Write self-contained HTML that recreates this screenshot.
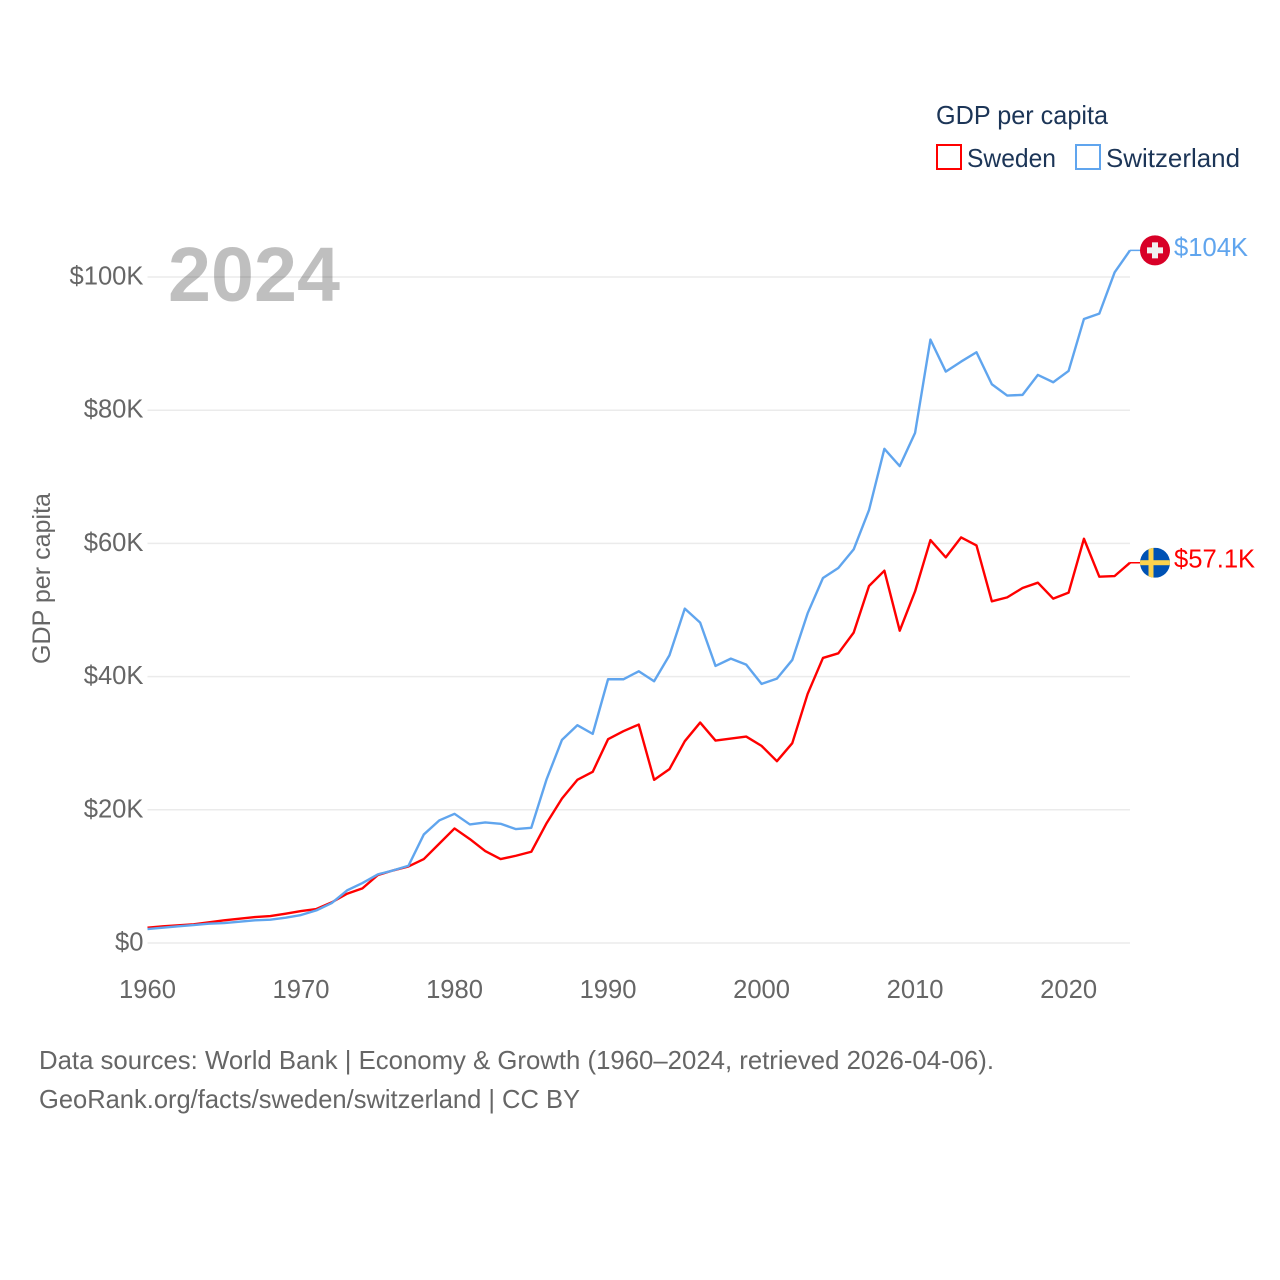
<!DOCTYPE html>
<html lang="en">
<head>
<meta charset="utf-8">
<title>GDP per capita: Sweden and Switzerland</title>
<style>
  html, body { margin: 0; padding: 0; background: #fff; }
  svg { display: block; font-family: "Liberation Sans", sans-serif; }
</style>
</head>
<body>
<svg id="chart" xmlns="http://www.w3.org/2000/svg" width="1280" height="1280" viewBox="0 0 1280 1280">
  <defs>
    <clipPath id="flag-clip-se"><circle cx="0" cy="0" r="15"></circle></clipPath>
  </defs>
  <rect x="0" y="0" width="1280" height="1280" fill="#ffffff"></rect>
  <g id="grid"></g>
  <g id="y-ticks"></g>
  <g id="x-ticks"></g>
  <text x="168" y="301" font-size="77" font-weight="700" fill="#000000" fill-opacity="0.25" textLength="172" lengthAdjust="spacingAndGlyphs">2024</text>
  <text transform="translate(50,664) rotate(-90)" font-size="25" fill="#666666" textLength="171" lengthAdjust="spacingAndGlyphs">GDP per capita</text>
  <g id="series"></g>
  <g id="ends"></g>
  <g>
    <text x="936" y="124" font-size="26" fill="#1c3557" textLength="172" lengthAdjust="spacingAndGlyphs">GDP per capita</text>
    <g>
      <rect x="937" y="145" width="24" height="24" fill="#ffffff" stroke="#ff0000" stroke-width="2"></rect>
      <text x="967" y="167" font-size="26" fill="#1c3557" textLength="89" lengthAdjust="spacingAndGlyphs">Sweden</text>
    </g>
    <g>
      <rect x="1076" y="145" width="24" height="24" fill="#ffffff" stroke="#60a5ee" stroke-width="2"></rect>
      <text x="1106" y="167" font-size="26" fill="#1c3557" textLength="134" lengthAdjust="spacingAndGlyphs">Switzerland</text>
    </g>
  </g>
  <text x="39" y="1069" font-size="26" fill="#666666" textLength="955" lengthAdjust="spacingAndGlyphs">Data sources: World Bank | Economy &amp; Growth (1960–2024, retrieved 2026-04-06).</text>
  <text x="39" y="1108" font-size="26" fill="#666666" textLength="541" lengthAdjust="spacingAndGlyphs">GeoRank.org/facts/sweden/switzerland | CC BY</text>
</svg>
<script>
var years = [1960,1961,1962,1963,1964,1965,1966,1967,1968,1969,1970,1971,1972,1973,1974,1975,1976,1977,1978,1979,1980,1981,1982,1983,1984,1985,1986,1987,1988,1989,1990,1991,1992,1993,1994,1995,1996,1997,1998,1999,2000,2001,2002,2003,2004,2005,2006,2007,2008,2009,2010,2011,2012,2013,2014,2015,2016,2017,2018,2019,2020,2021,2022,2023,2024];
var swedenValues = [2.3,2.5,2.65,2.8,3.1,3.4,3.65,3.9,4.05,4.4,4.8,5.1,6.1,7.4,8.2,10.2,10.9,11.5,12.6,14.9,17.2,15.6,13.8,12.6,13.1,13.7,18.0,21.7,24.5,25.7,30.6,31.8,32.8,24.5,26.1,30.3,33.1,30.4,30.7,31.0,29.6,27.3,30.0,37.4,42.8,43.5,46.6,53.6,55.9,46.9,52.8,60.5,57.9,60.9,59.7,51.3,51.9,53.3,54.1,51.7,52.6,60.7,55.0,55.1,57.1];
var switzerlandValues = [2.1,2.3,2.5,2.7,2.9,3.0,3.2,3.4,3.5,3.8,4.2,4.9,6.0,7.9,9.0,10.3,10.9,11.6,16.3,18.4,19.4,17.8,18.1,17.9,17.1,17.3,24.6,30.5,32.7,31.4,39.6,39.6,40.8,39.3,43.2,50.2,48.1,41.6,42.7,41.8,38.9,39.7,42.5,49.5,54.8,56.3,59.1,65.0,74.2,71.6,76.6,90.6,85.8,87.3,88.7,83.9,82.2,82.3,85.3,84.2,85.9,93.7,94.5,100.7,104.0];
var yTickValues = [0,20,40,60,80,100];
var yTickLabels = ["$0","$20K","$40K","$60K","$80K","$100K"];
var xTickValues = [1960,1970,1980,1990,2000,2010,2020];
var xTickLabels = ["1960","1970","1980","1990","2000","2010","2020"];

var NS = "http://www.w3.org/2000/svg";
var plotLeft = 147.5, plotRight = 1130, plotZero = 943, plotHundred = 277;
function xScale(year) {
  return plotLeft + (year - years[0]) * (plotRight - plotLeft) / (years[years.length - 1] - years[0]);
}
function yScale(value) {
  return plotZero + value * (plotHundred - plotZero) / 100;
}
function make(tag, attrs, parent) {
  var el = document.createElementNS(NS, tag);
  for (var k in attrs) { el.setAttribute(k, attrs[k]); }
  parent.appendChild(el);
  return el;
}
function formatValue(v) {
  return "$" + (v >= 100 ? Math.round(v) : v.toFixed(1)) + "K";
}

var gridGroup = document.getElementById("grid");
var yGroup = document.getElementById("y-ticks");
yTickValues.forEach(function (v, i) {
  var line = make("line", { x1: plotLeft, x2: plotRight, y1: yScale(v), y2: yScale(v), stroke: "#ebebeb", "stroke-width": 1.5 }, gridGroup);
  
  
  var label = make("text", { x: 143.5, y: yScale(v) + 7.5, "text-anchor": "end", "font-size": 25.6, fill: "#666666" }, yGroup);
  label.textContent = yTickLabels[i];
  
  
});

var xGroup = document.getElementById("x-ticks");
xTickValues.forEach(function (v, i) {
  var label = make("text", { x: xScale(v), y: 998, "text-anchor": "middle", "font-size": 25.6, fill: "#666666" }, xGroup);
  label.textContent = xTickLabels[i];
  
  
});

function pointsFor(values) {
  return values.map(function (v, i) { return xScale(years[i]).toFixed(2) + "," + yScale(v).toFixed(2); }).join(" ");
}
var seriesGroup = document.getElementById("series");
var swedenLine = make("polyline", { points: pointsFor(swedenValues), fill: "none", stroke: "#ff0000", "stroke-width": 2.4, "stroke-linejoin": "round" }, seriesGroup);


var switzerlandLine = make("polyline", { points: pointsFor(switzerlandValues), fill: "none", stroke: "#60a5ee", "stroke-width": 2.4, "stroke-linejoin": "round" }, seriesGroup);



var endsGroup = document.getElementById("ends");
var lastYear = years[years.length - 1];
var flagX = xScale(lastYear) + 25;

// Switzerland end marker
var chY = yScale(switzerlandValues[switzerlandValues.length - 1]);
var chLeader = make("line", { x1: xScale(lastYear), x2: flagX, y1: chY, y2: chY, stroke: "#60a5ee", "stroke-width": 1.5 }, endsGroup);


var chFlag = make("g", { transform: "translate(" + flagX + "," + chY + ")" }, endsGroup);


make("circle", { cx: 0, cy: 0, r: 15, fill: "#d80027" }, chFlag);
make("rect", { x: -8, y: -3, width: 16, height: 6, fill: "#f0f0f0" }, chFlag);
make("rect", { x: -3, y: -8, width: 6, height: 16, fill: "#f0f0f0" }, chFlag);
var chLabel = make("text", { x: flagX + 19, y: chY + 5.5, "font-size": 25.6, fill: "#60a5ee" }, endsGroup);
chLabel.textContent = formatValue(switzerlandValues[switzerlandValues.length - 1]);



// Sweden end marker
var seY = yScale(swedenValues[swedenValues.length - 1]);
var seLeader = make("line", { x1: xScale(lastYear), x2: flagX, y1: seY, y2: seY, stroke: "#ff0000", "stroke-width": 1.5 }, endsGroup);


var seFlag = make("g", { transform: "translate(" + flagX + "," + seY + ")", "clip-path": "url(#flag-clip-se)" }, endsGroup);


make("rect", { x: -15, y: -15, width: 30, height: 30, fill: "#0052b4" }, seFlag);
make("rect", { x: -15, y: -2.5, width: 30, height: 5, fill: "#fcd34d" }, seFlag);
make("rect", { x: -6.5, y: -15, width: 5, height: 30, fill: "#fcd34d" }, seFlag);
var seLabel = make("text", { x: flagX + 19, y: seY + 5, "font-size": 25.6, fill: "#ff0000" }, endsGroup);
seLabel.textContent = formatValue(swedenValues[swedenValues.length - 1]);


</script>
</body>
</html>
